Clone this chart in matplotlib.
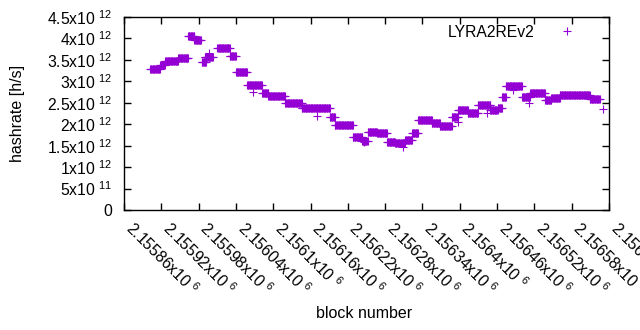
import numpy as np
import matplotlib
matplotlib.use('Agg')
import matplotlib.pyplot as plt

plt.rcParams['font.family'] = ['Liberation Sans', 'DejaVu Sans']
plt.rcParams['mathtext.fontset'] = 'custom'
plt.rcParams['mathtext.rm'] = 'Liberation Sans'
plt.rcParams['mathtext.default'] = 'regular'

# hashrate (first block, last block, value in h/s)
block_base = 2155000
run_start = [902, 918, 926, 947, 963, 973, 985, 990, 1010, 1030, 1040, 1058, 1082,
             1092, 1119, 1146, 1191, 1199, 1228, 1243, 1252, 1267, 1283, 1296, 1312,
             1323, 1333, 1355, 1368, 1387, 1397, 1413, 1429, 1449, 1461, 1468, 1474,
             1500, 1513, 1537, 1547, 1561, 1609]
run_end = [918, 926, 947, 963, 973, 984, 992, 1003, 1030, 1040, 1058, 1082, 1092,
           1119, 1146, 1191, 1199, 1228, 1243, 1252, 1267, 1283, 1296, 1312, 1323,
           1333, 1355, 1368, 1387, 1397, 1413, 1429, 1449, 1461, 1468, 1474, 1500,
           1513, 1537, 1547, 1561, 1609, 1625]
run_value = [3.29e12, 3.38e12, 3.47e12, 3.54e12, 4.06e12, 3.96e12, 3.45e12, 3.56e12,
             3.78e12, 3.59e12, 3.22e12, 2.91e12, 2.73e12, 2.66e12, 2.49e12, 2.38e12,
             2.17e12, 1.98e12, 1.70e12, 1.61e12, 1.82e12, 1.80e12, 1.59e12, 1.56e12,
             1.63e12, 1.80e12, 2.10e12, 2.03e12, 1.96e12, 2.17e12, 2.33e12, 2.26e12,
             2.45e12, 2.33e12, 2.38e12, 2.63e12, 2.89e12, 2.63e12, 2.73e12, 2.56e12,
             2.61e12, 2.68e12, 2.59e12]

# single points off the runs
odd_block = [961, 997, 1067, 1170, 1246, 1309, 1397, 1444, 1486, 1511, 1630]
odd_value = [3.54e12, 3.66e12, 2.75e12, 2.19e12, 1.59e12, 1.47e12, 2.05e12,
             2.26e12, 2.80e12, 2.49e12, 2.35e12]

blocks = []
values = []
for s, e, v in zip(run_start, run_end, run_value):
    for b in range(s, e + 1):
        blocks.append(block_base + b)
        values.append(v)
blocks += [block_base + b for b in odd_block]
values += odd_value

fig = plt.figure(figsize=(6.4, 3.3), dpi=100)
ax = fig.add_axes([124 / 640, 1 - 210 / 330, 485 / 640, 193 / 330])

ax.plot(blocks, values, linestyle='none', marker='+', color='#9400D3',
        markersize=6, markeredgewidth=0.8, label='LYRA2REv2')

ax.set_xlim(2155860, 2156640)
ax.set_ylim(0, 4.5e12)

xt = np.arange(2155860, 2156641, 60)
ax.set_xticks(xt)
ax.set_xticklabels(['%gx10 $^{6}$' % (t / 1e6) for t in xt])

yt = [0, 5e11, 1e12, 1.5e12, 2e12, 2.5e12, 3e12, 3.5e12, 4e12, 4.5e12]
ylabels = ['0', '5x10 $^{11}$', '1x10 $^{12}$', '1.5x10 $^{12}$', '2x10 $^{12}$',
           '2.5x10 $^{12}$', '3x10 $^{12}$', '3.5x10 $^{12}$', '4x10 $^{12}$',
           '4.5x10 $^{12}$']
ax.set_yticks(yt)
ax.set_yticklabels(ylabels)

ax.tick_params(direction='in', length=5, width=1, top=True, right=True,
               labelsize=11.3, colors='black')
ax.tick_params(axis='y', pad=8.6)
ax.tick_params(axis='x', pad=14.4)
plt.setp(ax.get_xticklabels(), rotation=-45, ha='left', va='baseline',
         rotation_mode='anchor')
for sp in ax.spines.values():
    sp.set_linewidth(1)

ax.set_ylabel('hashrate [h/s]', fontsize=11.5)
ax.yaxis.set_label_coords(-0.205, 0.5)
ax.set_xlabel('block number', fontsize=11.5)
ax.xaxis.set_label_coords(0.495, -0.5)

ax.legend(loc='center right', bbox_to_anchor=(0.9555, 0.922), frameon=False,
          fontsize=11.3, markerfirst=False, handlelength=2.6, handletextpad=0.8,
          borderpad=0, borderaxespad=0)

fig.savefig('out.png', dpi=100)
